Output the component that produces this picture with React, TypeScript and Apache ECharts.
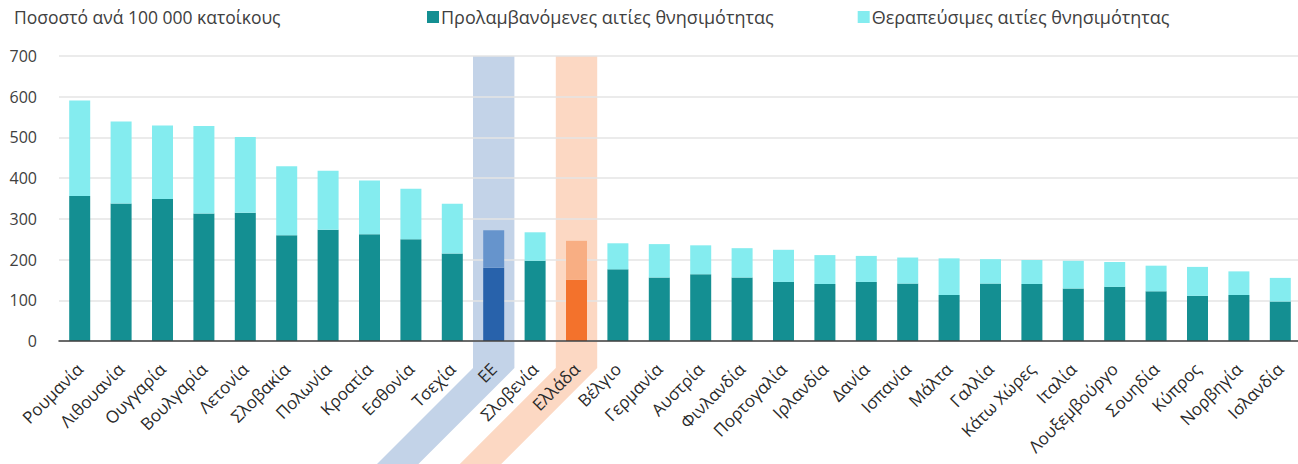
import React, { useEffect, useRef } from "react";
import * as echarts from "echarts";

const categories = [
  "Ρουμανία", "Λιθουανία", "Ουγγαρία", "Βουλγαρία", "Λετονία", "Σλοβακία", "Πολωνία",
  "Κροατία", "Εσθονία", "Τσεχία", "ΕΕ", "Σλοβενία", "Ελλάδα", "Βέλγιο", "Γερμανία",
  "Αυστρία", "Φινλανδία", "Πορτογαλία", "Ιρλανδία", "Δανία", "Ισπανία", "Μάλτα",
  "Γαλλία", "Κάτω Χώρες", "Ιταλία", "Λουξεμβούργο", "Σουηδία", "Κύπρος", "Νορβηγία", "Ισλανδία",
];

const preventable = [
  356, 338, 349, 313, 315, 260, 273, 262, 250, 215, 180, 197, 150, 176, 156,
  164, 156, 145, 140, 145, 141, 113, 141, 140, 129, 133, 122, 111, 113, 97,
];

const treatable = [
  235, 201, 180, 215, 186, 169, 145, 132, 124, 122, 92, 70, 96, 64, 82,
  71, 72, 79, 71, 64, 64, 90, 60, 59, 68, 61, 63, 71, 58, 58,
];

const yTicks = [0, 100, 200, 300, 400, 500, 600, 700];

const seriesNames = ["Προλαμβανόμενες αιτίες θνησιμότητας", "Θεραπεύσιμες αιτίες θνησιμότητας"];
const titleText = "Ποσοστό ανά 100 000 κατοίκους";

const highlights: Record<string, { low: string; high: string; band: string }> = {
  "ΕΕ": { low: "#2862ab", high: "#6694cc", band: "rgba(41,98,174,0.28)" },
  "Ελλάδα": { low: "#f3722c", high: "#f8ae83", band: "rgba(243,115,41,0.28)" },
};

const FONT = "'Open Sans', 'Noto Sans', sans-serif";

export default function App() {
  const ref = useRef<HTMLDivElement>(null);
  useEffect(() => {
    document.body.style.margin = "0";
    if (!ref.current) return;
    const chart = echarts.init(ref.current, null, { renderer: "svg" });
    const mk = (vals: number[], base: string, idx: 0 | 1) =>
      vals.map((v, i) => {
        const h = highlights[categories[i]];
        return h ? { value: v, itemStyle: { color: idx === 0 ? h.low : h.high } } : { value: v, itemStyle: { color: base } };
      });
    chart.setOption({
      animation: false,
      textStyle: { fontFamily: FONT },
      title: {
        text: titleText,
        left: 9,
        top: 3,
        textStyle: { fontFamily: FONT, fontSize: 17.5, fontWeight: "normal", color: "#404040" },
      },
      legend: {
        left: 422,
        top: 3,
        itemWidth: 12,
        itemHeight: 12,
        itemGap: 84,
        icon: "rect",
        textStyle: { fontFamily: FONT, fontSize: 18, color: "#404040", padding: [0, 0, 0, -3] },
        data: seriesNames,
      },
      grid: { left: 59, top: 56, width: 1242, height: 285, containLabel: false, outerBoundsMode: "none" },
      xAxis: {
        type: "category",
        data: categories,
        axisTick: { show: false },
        axisLine: { lineStyle: { color: "#404040", width: 1.5 } },
        axisLabel: {
          rotate: 45,
          margin: 25,
          fontSize: 17,
          color: "#2a2a2a",
          fontFamily: FONT,
          interval: 0,
        },
        z: 5,
      },
      yAxis: {
        type: "value",
        min: yTicks[0],
        max: yTicks[yTicks.length - 1],
        interval: 100,
        axisLabel: { margin: 22, fontSize: 16, color: "#404040", fontFamily: FONT },
        splitLine: { lineStyle: { color: "#e4e4e4", width: 1.5 } },
        axisLine: { show: false },
        axisTick: { show: false },
      },
      series: [
        {
          name: seriesNames[0],
          type: "bar",
          stack: "t",
          barWidth: 21,
          color: "#148f92",
          data: mk(preventable, "#148f92", 0),
          z: 3,
        },
        {
          name: seriesNames[1],
          type: "bar",
          stack: "t",
          barWidth: 21,
          color: "#84ecef",
          data: mk(treatable, "#84ecef", 1),
          z: 3,
        },
      ],
    });

    const yTop = chart.convertToPixel({ yAxisIndex: 0 }, yTicks[yTicks.length - 1]) as number;
    const yZero = chart.convertToPixel({ yAxisIndex: 0 }, 0) as number;
    const step = (chart.convertToPixel({ xAxisIndex: 0 }, categories[1]) as number) -
      (chart.convertToPixel({ xAxisIndex: 0 }, categories[0]) as number);
    const brk = yZero + 27;
    const d = 160;
    const graphics: any[] = [];
    Object.keys(highlights).forEach((name) => {
      const cx = chart.convertToPixel({ xAxisIndex: 0 }, name) as number;
      const x0 = cx - step / 2;
      const x1 = cx + step / 2;
      graphics.push({
        type: "polygon",
        z: -1,
        silent: true,
        shape: {
          points: [
            [x0, yTop], [x1, yTop], [x1, brk], [x1 - d, brk + d], [x0 - d, brk + d], [x0, brk],
          ],
        },
        style: { fill: highlights[name].band },
      });
    });
    chart.setOption({ graphic: graphics });

    return () => chart.dispose();
  }, []);
  return <div ref={ref} style={{ width: 1298, height: 464 }} />;
}
